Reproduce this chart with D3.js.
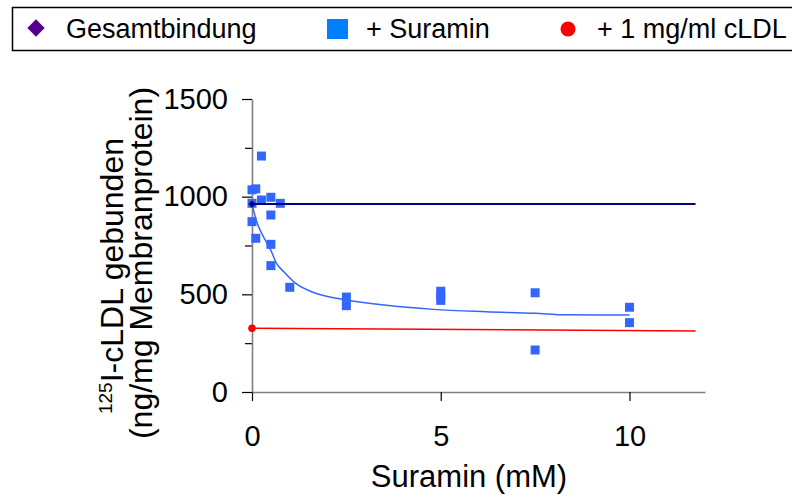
<!DOCTYPE html>
<html>
<head>
<meta charset="utf-8">
<script src="https://cdn.jsdelivr.net/npm/d3@7"></script>
<style>
    body { margin: 0; background: #fff; }
    text { font-family: "Liberation Sans", Arial, sans-serif; }
</style>
</head>
<body>
<div id="chart"></div>
<script>
// Legend entries
const legendLabels = ["Gesamtbindung", "+ Suramin", "+ 1 mg/ml cLDL"];

// + Suramin measurements (mM, ng/mg)
const suraminX = [0, 0, 0, 0.1, 0.1, 0.25, 0.25, 0.5, 0.5, 0.5, 0.5, 0.75, 1, 2.5, 2.5, 5, 5, 5, 7.5, 7.5, 10, 10];
const suraminY = [1035, 966, 872, 1040, 787, 1208, 983, 997, 906, 756, 647, 966, 536, 486, 442, 516, 492, 469, 508, 215, 434, 355];

// fitted curve for + Suramin
const fitX = [0, 0.125, 0.35, 0.5, 0.65, 0.85, 1.15, 1.6, 2.1, 2.5, 3.5, 4.8, 6.2, 7.5, 8.3, 10];
const fitY = [962, 872, 778, 725, 659, 614, 557, 512, 485, 471, 445, 423, 411, 403, 395, 394];

// Gesamtbindung: point and horizontal line
const totalX = [0];
const totalY = [962];
const totalLineX = [0, 11.75];
const totalLineY = [962, 962];

// + 1 mg/ml cLDL: point and line
const cldlX = [0];
const cldlY = [326];
const cldlLineX = [0, 11.75];
const cldlLineY = [327, 312];

// axis ticks
const xTicks = [0, 5, 10];
const yTicks = [0, 500, 1000, 1500];
const yMinorTicks = [250, 750, 1250];

const W = 792, H = 495;

const svg = d3.select("#chart")
    .append("svg")
    .attr("width", W)
    .attr("height", H);

// scales
const x = d3.scaleLinear().domain([0, 12]).range([252, 705]);
const y = d3.scaleLinear().domain([0, 1500]).range([392, 99]);

// axes
const xAxis = svg.append("g")
    .attr("transform", `translate(0,${y(0)})`)
    .call(d3.axisBottom(x).tickValues(xTicks).tickSize(9).tickSizeOuter(0).tickPadding(24).tickFormat(d3.format("d")));

const yMinor = svg.append("g")
    .attr("transform", `translate(${x(0)},0)`)
    .call(d3.axisLeft(y).tickValues(yMinorTicks).tickSize(7).tickSizeOuter(0).tickFormat(""));
yMinor.select(".domain").remove();

const yAxis = svg.append("g")
    .attr("transform", `translate(${x(0)},0)`)
    .call(d3.axisLeft(y).tickValues(yTicks).tickSize(10).tickSizeOuter(0).tickPadding(14).tickFormat(d3.format("d")));

[xAxis, yAxis, yMinor].forEach(g => {
    g.selectAll(".tick line").attr("stroke", "#000").attr("stroke-width", 1.2);
    g.selectAll(".tick text").attr("font-size", 29).attr("fill", "#000")
        .style("font-family", "'Liberation Sans', Arial, sans-serif");
});
[xAxis, yAxis].forEach(g => {
    g.select(".domain").attr("stroke", "#808080").attr("stroke-width", 1.6);
});

// + Suramin squares
const sq = suraminX.map((d, i) => [d, suraminY[i]]);
svg.append("g")
    .selectAll("rect")
    .data(sq)
    .join("rect")
    .attr("x", d => x(d[0]) - 4.5)
    .attr("y", d => y(d[1]) - 4.5)
    .attr("width", 9)
    .attr("height", 9)
    .attr("fill", "#3366ff");

// lines
const line = d3.line().x(d => x(d[0])).y(d => y(d[1]));

svg.append("path")
    .datum(cldlLineX.map((d, i) => [d, cldlLineY[i]]))
    .attr("d", line)
    .attr("fill", "none")
    .attr("stroke", "#ff0000")
    .attr("stroke-width", 1.5);

svg.append("path")
    .datum(fitX.map((d, i) => [d, fitY[i]]))
    .attr("d", line.curve(d3.curveMonotoneX))
    .attr("fill", "none")
    .attr("stroke", "#3366ff")
    .attr("stroke-width", 1.5);

svg.append("path")
    .datum(totalLineX.map((d, i) => [d, totalLineY[i]]))
    .attr("d", d3.line().x(d => x(d[0])).y(d => y(d[1])))
    .attr("fill", "none")
    .attr("stroke", "#000080")
    .attr("stroke-width", 2);

// points at x = 0
svg.selectAll(".cldl")
    .data(cldlX.map((d, i) => [d, cldlY[i]]))
    .join("circle")
    .attr("class", "cldl")
    .attr("cx", d => x(d[0]))
    .attr("cy", d => y(d[1]))
    .attr("r", 3.8)
    .attr("fill", "#ff0000");

svg.selectAll(".total")
    .data(totalX.map((d, i) => [d, totalY[i]]))
    .join("path")
    .attr("class", "total")
    .attr("d", d3.symbol(d3.symbolSquare, 26))
    .attr("transform", d => `translate(${x(d[0])},${y(d[1])}) rotate(45)`)
    .attr("fill", "#000080");

// axis titles
svg.append("text")
    .attr("x", 469)
    .attr("y", 487)
    .attr("text-anchor", "middle")
    .attr("font-size", 31)
    .text("Suramin (mM)");

const yt1 = svg.append("text")
    .attr("transform", "translate(123,276) rotate(-90)")
    .attr("text-anchor", "middle")
    .attr("font-size", 32);
yt1.append("tspan").attr("font-size", 19).attr("dy", -11).text("125");
yt1.append("tspan").attr("dy", 11).text("I-cLDL gebunden");

svg.append("text")
    .attr("transform", "translate(152,263) rotate(-90)")
    .attr("text-anchor", "middle")
    .attr("font-size", 32)
    .text("(ng/mg Membranprotein)");

// legend
const legend = svg.append("g");
legend.append("rect")
    .attr("x", 12.5)
    .attr("y", 7.5)
    .attr("width", 800)
    .attr("height", 43)
    .attr("fill", "#fff")
    .attr("stroke", "#000")
    .attr("stroke-width", 1.5);

legend.append("path")
    .attr("d", d3.symbol(d3.symbolSquare, 150))
    .attr("transform", "translate(36,28) rotate(45)")
    .attr("fill", "#55008c");
legend.append("rect")
    .attr("x", 327).attr("y", 19)
    .attr("width", 21).attr("height", 20)
    .attr("fill", "#0080ff");
legend.append("circle")
    .attr("cx", 568).attr("cy", 29)
    .attr("r", 7.5)
    .attr("fill", "#ff0000");

const legendX = [66, 366, 597];
legend.selectAll(".lbl")
    .data(legendLabels)
    .join("text")
    .attr("class", "lbl")
    .attr("x", (d, i) => legendX[i])
    .attr("y", 38)
    .attr("font-size", 27)
    .text(d => d);
</script>
</body>
</html>
